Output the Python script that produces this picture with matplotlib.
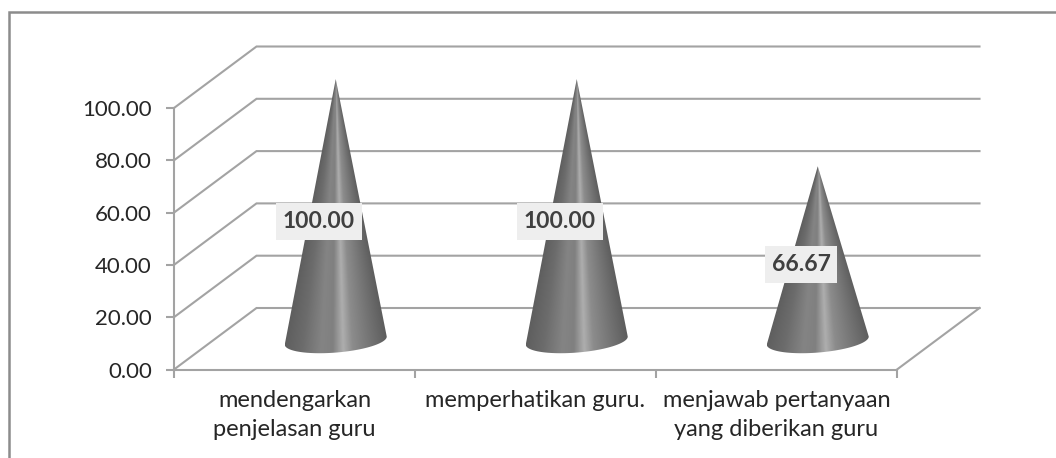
import numpy as np
import matplotlib
matplotlib.use('Agg')
import matplotlib.pyplot as plt
from matplotlib.colors import LinearSegmentedColormap
from matplotlib.lines import Line2D
from matplotlib.patches import PathPatch, Rectangle
from matplotlib.path import Path

categories = ['mendengarkan\npenjelasan guru', 'memperhatikan guru.', 'menjawab pertanyaan\nyang diberikan guru']
values = [100.00, 100.00, 66.67]
y_ticks = [0, 20, 40, 60, 80, 100]

GREY = '#a3a3a3'
W, H = 1056, 458
# plot box in pixels, measured on the front plane
LEFT, RIGHT, FLOOR, TOP = 174, 897, 369.5, 108

plt.rcParams['font.family'] = ['Lato', 'DejaVu Sans']

fig = plt.figure(figsize=(W / 100, H / 100), dpi=100)
ax = fig.add_axes([LEFT / W, 1 - FLOOR / H, (RIGHT - LEFT) / W, (FLOOR - TOP) / H])
ax.set_xlim(0, 3)
ax.set_ylim(0, 100)
ax.patch.set_alpha(0)

px_x = (RIGHT - LEFT) / 3
px_y = (FLOOR - TOP) / 100
depth_x = 82.5 / px_x
depth_y = 61.5 / px_y

# walls and floor of the fake 3d box
for v in y_ticks:
    ax.plot([0, depth_x, 3 + depth_x], [v, v + depth_y, v + depth_y], color=GREY, lw=1.5,
            clip_on=False, zorder=1, solid_joinstyle='miter')
ax.plot([3, 3 + depth_x], [0, depth_y], color=GREY, lw=1.5, clip_on=False, zorder=1)

cmap = LinearSegmentedColormap.from_list('cone', [
    (0.00, '#5e5e5e'), (0.18, '#6c6c6c'), (0.36, '#848484'), (0.47, '#808080'),
    (0.57, '#aeaeae'), (0.66, '#8c8c8c'), (0.85, '#727272'), (1.00, '#5e5e5e')])

half_w = 51 / px_x
tilt = 4 / px_y
b = 12 / px_y
renderer = fig.canvas.get_renderer()
for i, v in enumerate(values):
    cx = i + 0.5 + depth_x / 2
    cy = depth_y / 2 - 0.7
    t = np.linspace(np.pi, 2 * np.pi, 60)
    ex = cx + half_w * np.cos(t)
    ey = cy + tilt * np.cos(t) + b * np.sin(t)
    verts = [(cx, cy + v)] + list(zip(ex, ey)) + [(cx, cy + v)]
    codes = [Path.MOVETO] + [Path.LINETO] * (len(verts) - 2) + [Path.CLOSEPOLY]
    clip = PathPatch(Path(verts, codes), transform=ax.transData, fc='none', ec='none')

    xs = np.linspace(cx - half_w, cx + half_w, 220)
    ys = np.linspace(cy - b - 3, cy + v, 300)
    xx, yy = np.meshgrid(xs, ys)
    width = np.clip((cy + v - yy) / v, 1e-3, None) * half_w
    u = np.clip((xx - cx) / width, -1, 1)
    im = ax.imshow((u + 1) / 2, extent=[xs[0], xs[-1], ys[0], ys[-1]], origin='lower', cmap=cmap,
                   vmin=0, vmax=1, aspect='auto', zorder=3, interpolation='bilinear')
    im.set_clip_path(clip)
    im.set_clip_box(fig.bbox)

    # label box is wider around longer text but always the same height
    lx, ly = i + 0.5 + 24.5 / px_x, v / 2 + 6.7
    label = ax.text(lx, ly, f'{v:.2f}', ha='center', va='center', fontsize=16.5,
                    fontweight='bold', color='#404040', zorder=5)
    box_w = label.get_window_extent(renderer).width + 13
    ax.add_patch(Rectangle((lx - box_w / 2 / px_x, ly - 18.5 / px_y), box_w / px_x, 37 / px_y,
                           fc='#eeeeee', ec='none', zorder=4, clip_on=False))

ax.set_xlim(0, 3)
ax.set_ylim(0, 100)

for s in ['top', 'right']:
    ax.spines[s].set_visible(False)
for s in ['left', 'bottom']:
    ax.spines[s].set_color(GREY)
    ax.spines[s].set_linewidth(1.5)

ax.set_yticks(y_ticks)
ax.set_yticklabels([f'{v:.2f}' for v in y_ticks], fontsize=16, color='#262626')
ax.tick_params(axis='y', length=6, width=1.5, color=GREY, pad=10)
ax.set_xticks([0, 1, 2, 3])
ax.set_xticklabels([])
ax.tick_params(axis='x', length=6, width=1.5, color=GREY)
ax.set_xticks([0.5, 1.5, 2.5], minor=True)
ax.set_xticklabels(categories, minor=True, fontsize=17, color='#262626', linespacing=1.45)
ax.tick_params(axis='x', which='minor', length=0, pad=15)

# chart frame, cut off on the right and at the bottom
frame = Line2D([9 / W, 9 / W, 1], [0, 1 - 12 / H, 1 - 12 / H], transform=fig.transFigure,
               color='#8c8c8c', lw=1.8, solid_joinstyle='miter')
fig.add_artist(frame)

fig.savefig('out.png', dpi=100, facecolor='white')
